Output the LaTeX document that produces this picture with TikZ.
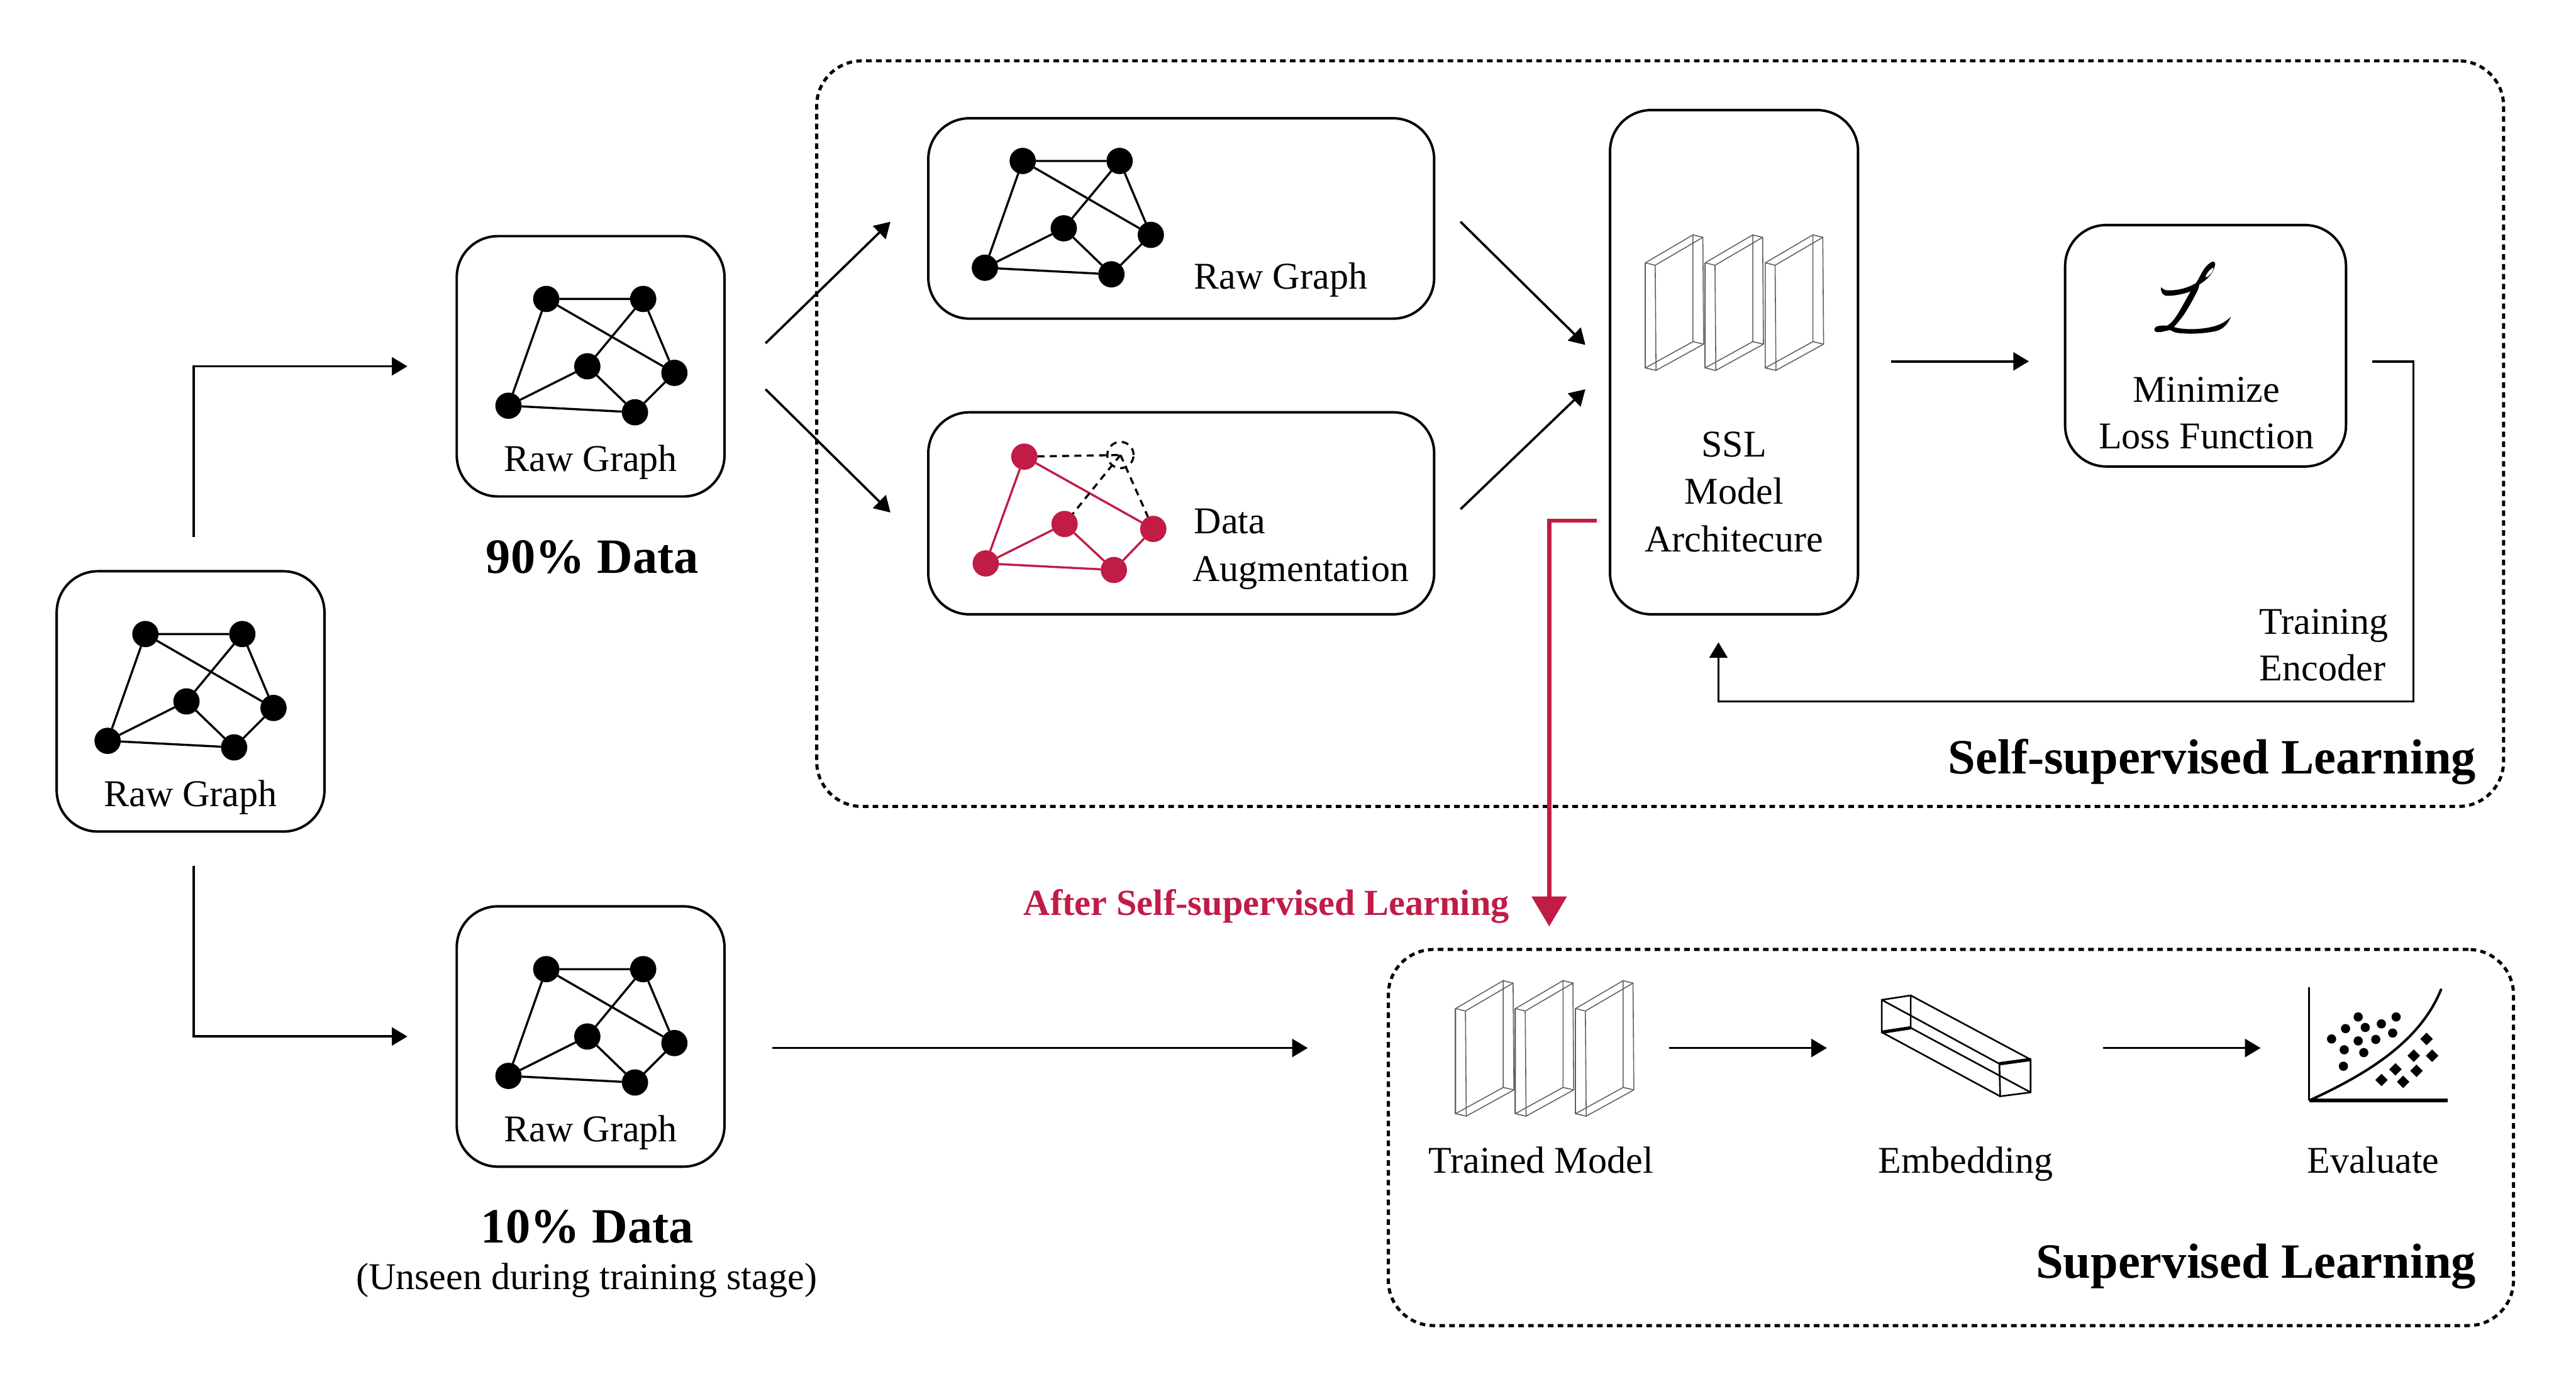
\documentclass[tikz,border=0pt]{standalone}
\usepackage{fontspec}
\setmainfont{Liberation Serif}
\usetikzlibrary{arrows.meta,shapes.geometric}
\definecolor{crim}{HTML}{C01C45}
\tikzset{
  gbox/.style={draw=black,line width=.3mm,rounded corners=.5cm,inner sep=0pt,outer sep=0pt},
  dotbox/.style={draw=black,line width=.38mm,rounded corners=.55cm,dash pattern=on .68mm off .52mm,inner sep=0pt,outer sep=0pt},
  gnode/.style={circle,fill=black,inner sep=0pt,outer sep=0pt,minimum size=3.2mm},
  rnode/.style={circle,fill=crim,inner sep=0pt,outer sep=0pt,minimum size=3.2mm},
  gedge/.style={black,line width=.26mm},
  redge/.style={crim,line width=.26mm},
  dedge/.style={black,line width=.26mm,dash pattern=on .85mm off .65mm},
  flow/.style={black,line width=.28mm,-{Triangle[length=1.9mm,width=2.2mm]}},
  redflow/.style={crim,line width=.52mm,-{Triangle[length=3.66mm,width=4.2mm]}},
  lab/.style={font=\fontsize{13.1}{15}\selectfont,anchor=base,inner sep=0pt},
  labl/.style={lab,anchor=base west},
  head/.style={font=\fontsize{17.1}{20}\selectfont\bfseries,anchor=base,inner sep=0pt},
  wire/.style={gray!75!black,line width=.12mm},
  cube/.style={black,line width=.2mm},
  rawgraph/.pic={
    \node[gnode] (a) at (0,0) {};
    \node[gnode] (b) at (59,0) {};
    \node[gnode] (c) at (25,41) {};
    \node[gnode] (d) at (78,45) {};
    \node[gnode] (e) at (-23,65) {};
    \node[gnode] (f) at (54,69) {};
    \draw[gedge] (a)--(b) (a)--(d) (a)--(e) (b)--(c) (b)--(d) (c)--(e) (c)--(f) (d)--(f) (e)--(f);
  },
  panel/.pic={
    \draw[wire] (0,0)--(29,-17)--(29,48)--(0,64)--cycle;
    \draw[wire] (6,1.5)--(35,-15.5)--(35.5,49.5)--(6.5,65.5)--cycle;
    \draw[wire] (0,0)--(6,1.5) (29,-17)--(35,-15.5) (29,48)--(35.5,49.5) (0,64)--(6.5,65.5);
    \draw[wire] (-.2,0)--(-.2,64);
  },
  layers/.pic={
    \pic at (0,0) {panel};
    \pic at (36.4,0) {panel};
    \pic at (73,0) {panel};
  }
}
\begin{document}
\begin{tikzpicture}[x=0.02cm,y=-0.02cm]
\useasboundingbox (0,0) rectangle (1568,839.4);

% frames
\node[dotbox,minimum width=20.54cm,minimum height=9.08cm] (ssl) at (1010.5,264) {};
\node[dotbox,minimum width=13.7cm,minimum height=4.58cm] (sup) at (1187.5,692.5) {};

% boxes
\node[gbox,minimum width=3.26cm,minimum height=3.17cm] (b0) at (116,427) {};
\node[gbox,minimum width=3.26cm,minimum height=3.17cm] (b90) at (359.5,223) {};
\node[gbox,minimum width=3.26cm,minimum height=3.17cm] (b10) at (359.5,631) {};
\node[gbox,minimum width=6.16cm,minimum height=2.44cm] (braw) at (719,133) {};
\node[gbox,minimum width=6.16cm,minimum height=2.46cm] (baug) at (719,312.5) {};
\node[gbox,minimum width=3.02cm,minimum height=6.14cm] (bssl) at (1055.5,220.5) {};
\node[gbox,minimum width=3.42cm,minimum height=2.94cm] (bloss) at (1342.5,210.5) {};

% graphs
\pic (g0) at (88.5,386) {rawgraph};
\pic (g90) at (332.5,182) {rawgraph};
\pic (g10) at (332.5,590) {rawgraph};
\pic (grt) at (622.5,98) {rawgraph};

% augmented graph
\node[rnode] (ra) at (623.5,278) {};
\node[circle,draw=black,line width=.26mm,dash pattern=on .85mm off .65mm,inner sep=0pt,outer sep=0pt,minimum size=3.2mm] (rb) at (682,277) {};
\node[rnode] (rc) at (648,319) {};
\node[rnode] (rd) at (702,322) {};
\node[rnode] (re) at (600,343) {};
\node[rnode] (rf) at (678,347) {};
\draw[redge] (ra)--(rd) (ra)--(re) (rc)--(re) (rc)--(rf) (rd)--(rf) (re)--(rf);
\draw[dedge] (ra)--(rb.center) (rb.center)--(rc) (rb.center)--(rd);

% layer icons
\pic at (1001.5,160) {layers};
\pic at (886,614) {layers};

% embedding
\coordinate (ea) at (1145.4,608.7);
\coordinate (eb) at (1163,606);
\coordinate (ec) at (1163,625.7);
\coordinate (ed) at (1145.4,628.4);
\coordinate (ee) at (1217,647.6);
\coordinate (ef) at (1236,645);
\coordinate (eg) at (1236,665);
\coordinate (eh) at (1217.5,667.4);
\draw[cube] (ea)--(eb)--(ec)--(ed)--cycle;
\draw[cube] (ee)--(ef)--(eg)--(eh)--cycle;
\draw[cube] (ea)--(ee) (eb)--(ef) (ec)--(eg) (ed)--(eh);
\draw[line width=.4mm] (ed)--(ec) (ee)--(ef);

% evaluate
\coordinate (ox) at (1405.5,670);
\draw[line width=.22mm] (1405.5,601)--(ox);
\draw[line width=.5mm] (ox)--(1490,670);
\draw[line width=.3mm] (ox) .. controls (1445,652) and (1474,632) .. (1486,602);
\foreach \x/\y in {1435.4/619.1,1458.5/619.1,1427.7/626.2,1439.7/625.5,1449.5/623.3,1456.4/628.9,1419.2/632.5,1435.4/633.7,1446.1/632.8,1426.9/639.1,1438.8/640.8,1426.4/649.1}
  \fill (\x,\y) circle[radius=2.8];
\foreach \x/\y in {1477/632.5,1469.2/642.7,1480.4/642.7,1458.1/651,1470.9/651.9,1449.6/657.5,1462.8/658.6}
  \fill (\x-3.8,\y)--(\x,\y-3.8)--(\x+3.8,\y)--(\x,\y+3.8)--cycle;

% script L
\begin{scope}[shift={(1297.1,150.2)},x=0.00213cm,y=-0.00213cm]
\fill[even odd rule] (135,465) .. controls (140,450) and (175,448) .. (205,450)
  .. controls (250,430) and (290,340) .. (340,255)
  .. controls (300,270) and (240,282) .. (200,280)
  .. controls (175,272) and (168,250) .. (172,230)
  .. controls (185,250) and (205,250) .. (240,248)
  .. controls (290,245) and (335,228) .. (370,208)
  .. controls (395,175) and (410,110) .. (465,85)
  .. controls (478,85) and (482,95) .. (480,100)
  .. controls (470,150) and (440,185) .. (390,215)
  .. controls (388,225) and (386,235) .. (382,245)
  .. controls (350,310) and (310,380) .. (285,410)
  .. controls (270,430) and (255,445) .. (245,458)
  .. controls (300,475) and (400,475) .. (480,452)
  .. controls (520,440) and (550,420) .. (570,398)
  .. controls (550,450) and (515,475) .. (480,482)
  .. controls (400,498) and (330,498) .. (270,492)
  .. controls (250,490) and (235,482) .. (225,475)
  .. controls (190,480) and (170,490) .. (150,487)
  .. controls (135,485) and (130,475) .. (135,465) -- cycle
  (470,118) .. controls (450,125) and (425,160) .. (425,172)
  .. controls (430,182) and (470,150) .. (470,118) -- cycle;
\end{scope}

% labels
\node[lab] (t0) at (116,491) {Raw Graph};
\node[lab] (t90) at (359.5,287) {Raw Graph};
\node[lab] (t10) at (359.5,695) {Raw Graph};
\node[labl] (trt) at (726.5,176) {Raw Graph};
\node[labl] (tda) at (726.5,325) {Data};
\node[labl] (tau) at (725.5,354) {Augmentation};
\node[lab] (ts1) at (1055.5,278) {SSL};
\node[lab] (ts2) at (1055.5,307) {Model};
\node[lab] (ts3) at (1055.5,336) {Architecure};
\node[lab] (tm1) at (1343,245) {Minimize};
\node[lab] (tm2) at (1343,273) {Loss Function};
\node[labl] (tt1) at (1375,386) {Training};
\node[labl] (tt2) at (1375,414.5) {Encoder};
\node[lab] (ttm) at (938,714) {Trained Model};
\node[lab] (tem) at (1196.5,714) {Embedding};
\node[lab] (tev) at (1444.5,714) {Evaluate};
\node[head] (h90) at (360.5,349) {90\% Data};
\node[head] (h10) at (357.5,756.5) {10\% Data};
\node[lab] (tun) at (357,785) {(Unseen during training stage)};
\node[head,anchor=base east] (hssl) at (1507.5,471) {Self-supervised Learning};
\node[head,anchor=base east] (hsup) at (1507.5,778) {Supervised Learning};
\node[font=\fontsize{12.72}{15}\selectfont\bfseries,text=crim,anchor=base east,inner sep=0pt] (haft) at (919,557) {After Self-supervised Learning};

% connector ends
\coordinate (c1) at (118,327); \coordinate (c2) at (248,223);
\coordinate (c3) at (118,527); \coordinate (c4) at (248,631);
\coordinate (c5) at (466,209); \coordinate (c6) at (542,135);
\coordinate (c7) at (466,237); \coordinate (c8) at (542,312);
\coordinate (c9) at (889,135); \coordinate (c10) at (965,210);
\coordinate (c11) at (889,310); \coordinate (c12) at (965,237);
\coordinate (c13) at (1151,220); \coordinate (c14) at (1235,220);
\coordinate (c15) at (1444,220); \coordinate (c16) at (1469,427); \coordinate (c17) at (1046,391);
\coordinate (c18) at (972,317); \coordinate (c19) at (943,564);
\coordinate (c20) at (470,638); \coordinate (c21) at (796,638);
\coordinate (c22) at (1016,638); \coordinate (c23) at (1112,638);
\coordinate (c24) at (1280,638); \coordinate (c25) at (1376,638);

\draw[flow] (c1) |- (c2);
\draw[flow] (c3) |- (c4);
\draw[flow] (c5) -- (c6);
\draw[flow] (c7) -- (c8);
\draw[flow] (c9) -- (c10);
\draw[flow] (c11) -- (c12);
\draw[flow] (c13) -- (c14);
\draw[flow] (c15) -| (c16) -| (c17);
\draw[redflow] (c18) -| (c19);
\draw[flow] (c20) -- (c21);
\draw[flow] (c22) -- (c23);
\draw[flow] (c24) -- (c25);
\end{tikzpicture}
\end{document}
